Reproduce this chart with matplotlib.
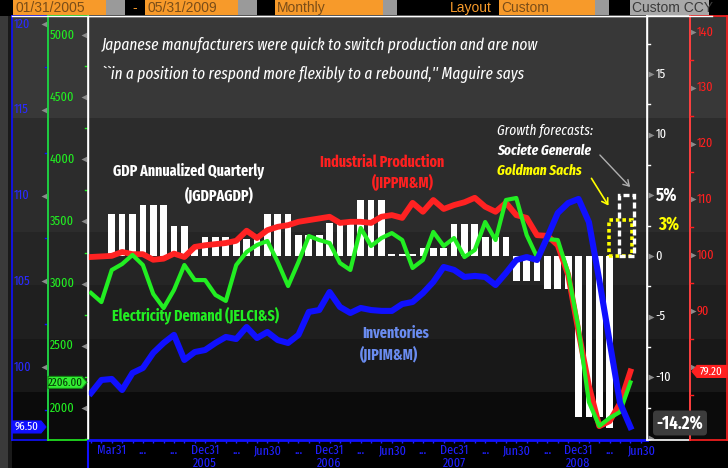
import numpy as np
import matplotlib
matplotlib.use("Agg")
import matplotlib.pyplot as plt
from matplotlib.patches import Rectangle, Polygon, FancyArrowPatch
from matplotlib.transforms import blended_transform_factory as btf

W, H = 728, 468
NARROW = ["Fira Sans Extra Condensed", "Fira Sans Condensed", "Liberation Sans", "DejaVu Sans"]
SANS = ["Liberation Sans", "DejaVu Sans"]

# ---------------- data (monthly, Jan 2005 .. May 2009) ----------------
ip = [99.7, 99.8, 99.9, 100.6, 100.2, 100.2, 99.2, 99.4, 100.3, 99.7,
      101.5, 101.8, 102.0, 102.2, 102.6, 104.4, 103.1, 104.5, 105.1, 105.4,
      106.0, 106.3, 106.6, 106.9, 105.8, 106.0, 106.0, 105.8, 106.9, 107.2,
      106.7, 109.4, 107.8, 109.9, 108.3, 109.0, 109.5, 110.3, 108.7, 107.8,
      109.4, 107.2, 106.7, 103.6, 103.5, 101.8, 96.5, 86.3, 76.6, 69.4,
      70.3, 73.5, 79.2]
elec = [2925, 2852, 3110, 3158, 3231, 3150, 2917, 2804, 2949, 3150,
        3029, 3029, 2909, 2861, 3150, 3255, 3311, 3343, 3174, 2981,
        3174, 3383, 3351, 3327, 3166, 3110, 3448, 3303, 3367, 3407,
        3351, 3126, 3190, 3416, 3303, 3367, 3214, 3271, 3496, 3351,
        3673, 3689, 3391, 3214, 3359, 3351, 3086, 2643, 2048, 1855,
        1920, 1968, 2206]
inv = [98.48, 99.24, 99.30, 98.66, 99.65, 99.94, 100.82, 101.40, 101.87, 100.41,
       100.87, 100.99, 101.40, 101.75, 101.63, 102.33, 101.69, 102.04, 101.57, 101.40,
       101.87, 103.21, 103.32, 104.37, 103.50, 103.15, 103.44, 103.32, 103.27, 103.27,
       103.67, 103.79, 104.31, 104.96, 105.83, 105.66, 105.25, 105.31, 105.25, 104.78,
       105.48, 106.24, 106.41, 106.24, 107.58, 108.98, 109.56, 109.80, 108.45, 105.07,
       101.46, 97.90, 96.50]
nan = np.nan
gdp = [nan, nan, 3.5, 3.5, 3.5, 4.2, 4.2, 4.2, 2.5, 2.5, 0.6,
       1.55, 1.55, 1.55, 1.4, 1.4, 1.4, 3.5, 3.5, 3.5, 1.7, 1.7, 1.7,
       2.7, 2.7, 2.7, 4.6, 4.6, 4.6, 0.2, 0.2, 0.2, 0.64, 0.64, 0.64,
       2.64, 2.64, 2.64, 1.57, 1.57, 1.57, -2.1, -2.1, -2.1, -2.75, -2.75, -2.75,
       -13.3, -13.3, -13.3, -14.2, nan, nan]
fc_socgen = 5.0
fc_goldman = 3.0
last_gdp_label = "-14.2%"

quarter_labels = ["Mar31", "...", "...", "Dec31", "...", "Jun30", "...", "Dec31", "...",
                  "Jun30", "...", "Dec31", "...", "Jun30", "...", "Dec31", "...", "Jun30"]
year_labels = ["2005", "2006", "2007", "2008"]

gdp_ticks = [-15, -10, -5, 0, 5, 10, 15]
gdp_ticklabels = ["", "-10", "-5", "0", "", "10", "15"]
ip_ticks = [80, 90, 100, 110, 120, 130, 140]
ip_ticklabels = ["", "90", "100", "110", "120", "130", "140"]
inv_ticks = [100, 105, 110, 115, 120]
elec_ticks = [2000, 2500, 3000, 3500, 4000, 4500, 5000]

# ---------------- helpers ----------------
def fx(x):
    return x / W

def fy(y):
    return 1 - y / H

fig = plt.figure(figsize=(W / 100, H / 100), dpi=100, facecolor="black")

def frect(x0, y0, x1, y1, color, z=-10, **kw):
    fig.patches.append(Rectangle((fx(x0), fy(y1)), fx(x1) - fx(x0), fy(y0) - fy(y1),
                                 transform=fig.transFigure, facecolor=color,
                                 edgecolor="none", zorder=z, **kw))

def fline(xs, ys, color, lw=1, z=5):
    fig.add_artist(plt.Line2D([fx(v) for v in xs], [fy(v) for v in ys],
                              transform=fig.transFigure, color=color, lw=lw, zorder=z))

def ftext(x, y, s, **kw):
    kw.setdefault("va", "center")
    kw.setdefault("ha", "left")
    return fig.text(fx(x), fy(y), s, **kw)

# background bands
bands = [(16, 118, "#383838"), (118, 232, "#2c2c2c"), (232, 285, "#252525"),
         (285, 339, "#1f1f1f"), (339, 392, "#181818"), (392, 440, "#0b0b0b")]
for y0, y1, c in bands:
    frect(12, y0, 728, y1, c)
frect(0, 16, 8, 468, "#3a3a3a")
frect(8, 16, 12, 468, "#1a1a1a")

# top bar
top_boxes = [(13, 106, "#f79a2a", "01/31/2005", "#7a4d18", "left"),
             (106, 125, "#9a9a9a", "", None, None),
             (125, 145, "#000000", "-", "#f79a2a", "center"),
             (145, 238, "#f79a2a", "05/31/2009", "#7a4d18", "left"),
             (238, 257, "#9a9a9a", "", None, None),
             (257, 275, "#000000", "", None, None),
             (275, 383, "#f79a2a", "Monthly", "#7a4d18", "left"),
             (383, 397, "#9a9a9a", "", None, None),
             (397, 499, "#000000", "Layout", "#f79a2a", "right"),
             (499, 595, "#f79a2a", "Custom", "#7a4d18", "left"),
             (595, 609, "#9a9a9a", "", None, None),
             (609, 630, "#000000", "", None, None),
             (630, 709, "#a8a8a8", "Custom CCY", "#3a3a3a", "left")]
for x0, x1, c, t, tc, al in top_boxes:
    frect(x0, 0, x1, 15, c)
    if t:
        if al == "left":
            ftext(x0 + 2, 8, t, color=tc, fontsize=10, family=SANS, zorder=6)
        elif al == "right":
            ftext(x1 - 7, 8, t, color=tc, fontsize=10, family=SANS, ha="right", zorder=6)
        else:
            ftext((x0 + x1) / 2, 8, t, color=tc, fontsize=10, family=SANS, ha="center", zorder=6)
fline([12, 712], [16, 16], "white", lw=1)

# ---------------- main axes ----------------
rect_main = [fx(88), fy(440), fx(647) - fx(88), fy(16) - fy(440)]
XL = (-0.29, 53.6)
m = np.arange(len(ip))

ax = fig.add_axes(rect_main)
ax.set_facecolor("none")
ax.set_xlim(*XL)
ax.set_ylim(-15.18, 19.8)
ax.bar(m, gdp, width=0.65, color="white", zorder=2)

fc_x = len(ip) - 2
ax.add_patch(Rectangle((fc_x + 0.05 - 1.1, 0), 2.2, fc_goldman, fill=False,
                       edgecolor="#ffff00", lw=2.6, linestyle=(0, (1.0, 0.8)), zorder=6))
ax.add_patch(Rectangle((fc_x + 0.6 - 0.7, 0), 1.4, fc_socgen, fill=False,
                       edgecolor="white", lw=2.4, linestyle=(0, (1.8, 0.9)), zorder=7))

for s in ["left", "right", "top"]:
    ax.spines[s].set_color("white")
    ax.spines[s].set_linewidth(1)
ax.spines["bottom"].set_color("#1010ff")
ax.spines["bottom"].set_linewidth(2)
ax.set_yticks([])
q_pos = np.arange(2, 2 + 3 * len(quarter_labels), 3)
ax.set_xticks(q_pos)
ax.set_xticklabels(quarter_labels)
ax.set_xticks(m, minor=True)
ax.tick_params(axis="x", which="both", colors="#2020ff", length=2, width=1, pad=1,
               labelsize=9.5, direction="out")
for lab in ax.get_xticklabels():
    lab.set_family(NARROW)
year_pos = q_pos[3::4]
for yp, yl in zip(year_pos, year_labels):
    ax.text(yp, fy(463), yl, transform=btf(ax.transData, fig.transFigure),
            color="#2020ff", fontsize=9.5, family=NARROW, ha="center", va="center")

# lines
axr = ax.twinx()
axr.set_ylim(66.92, 142.86)
axr.plot(m, ip, color="#ff2222", lw=4.2, solid_joinstyle="round", zorder=3)
axr.axis("off")

axg = ax.twinx()
axg.set_ylim(1742.6, 5152.8)
axg.plot(m, elec, color="#22ee22", lw=3.0, solid_joinstyle="round", zorder=4)
axg.axis("off")

axb = ax.twinx()
axb.set_ylim(95.74, 120.47)
axb.plot(m, inv, color="#1010ff", lw=4.4, solid_joinstyle="round", zorder=5)
axb.axis("off")

fline([88, 88], [441, 468], "#1010ff", lw=1.5)

# ---------------- side panels ----------------
def panel(x0, x1, ylim, edge, ticks, labels, lab_color, lab_x, tri_x, tri_m, minor_side, edge_color_r=None):
    p = fig.add_axes([fx(x0), fy(440), fx(x1) - fx(x0), fy(16) - fy(440)])
    p.set_facecolor("none")
    p.set_xlim(0, 1)
    p.set_ylim(*ylim)
    p.set_xticks([])
    p.set_yticks([])
    for s in p.spines.values():
        s.set_color(edge)
        s.set_linewidth(1.2)
    if edge_color_r:
        p.spines["right"].set_color(edge_color_r)
    for t, l in zip(ticks, labels):
        p.plot([tri_x], [t], marker=tri_m, color="#8a8a8a", ms=4.5, mec="none")
        if l:
            p.text(lab_x, t, l, color=lab_color, fontsize=9.5, family=NARROW,
                   ha="left", va="center")
    step = ticks[1] - ticks[0]
    mids = np.arange(ticks[0] - step / 2, ylim[1], step)
    for mv in mids:
        if ylim[0] < mv < ylim[1]:
            if minor_side == "right":
                p.plot([0.93, 1.0], [mv, mv], color=edge, lw=1)
            else:
                p.plot([0.0, 0.07], [mv, mv], color=edge, lw=1)
    return p

pb = panel(12, 48, (95.74, 120.47), "#1010ff", inv_ticks, [str(t) for t in inv_ticks],
           "#2a2aff", 0.06, 0.9, "<", "right")
pg = panel(48, 88, (1742.6, 5152.8), "#22ee22", elec_ticks, [str(t) for t in elec_ticks],
           "#22ee22", 0.05, 0.9, "<", "right", edge_color_r="white")
pw = panel(647, 690, (-15.18, 19.8), "white", gdp_ticks, gdp_ticklabels,
           "white", 0.2, 0.09, ">", "left")
pr = panel(690, 727, (66.92, 142.86), "#ff2020", ip_ticks, ip_ticklabels,
           "#ff2020", 0.19, 0.09, ">", "left")

# value tags
def y_px(axis, val):
    disp = axis.transData.transform((0.5, val))[1]
    return H - disp

def tag(x0, x1, yc, fc, text, tc, point="right", ec=None):
    h = 6
    if point == "right":
        pts = [(x0, yc - h), (x1 - 5, yc - h), (x1, yc), (x1 - 5, yc + h), (x0, yc + h)]
    else:
        pts = [(x0, yc), (x0 + 5, yc - h), (x1, yc - h), (x1, yc + h), (x0 + 5, yc + h)]
    fig.patches.append(Polygon([(fx(a), fy(b)) for a, b in pts], closed=True,
                               transform=fig.transFigure, facecolor=fc,
                               edgecolor=ec or fc, lw=0.8, zorder=8))
    cx = (x0 + x1) / 2 + (-2 if point == "right" else 2)
    ftext(cx, yc, text, color=tc, fontsize=8.5, family=NARROW, ha="center", zorder=9)

tag(12, 46, y_px(pb, inv[-1]), "#1010ff", f"{inv[-1]:.2f}", "white", "right")
tag(48, 87, y_px(pg, elec[-1]), "#33ee33", f"{elec[-1]:.2f}", "#063806", "right", ec="#118811")
tag(692, 727, y_px(pr, ip[-1]), "#ff2020", f"{ip[-1]:.2f}", "white", "left")

# ---------------- annotations ----------------
ftext(102, 45, "Japanese manufacturers were quick to switch production and are now",
      color="white", fontsize=12, style="italic", family=NARROW)
ftext(102, 74, "``in a position to respond more flexibly to a rebound,'' Maguire says",
      color="white", fontsize=12, style="italic", family=NARROW)

ftext(113, 171, "GDP Annualized Quarterly", color="white", fontsize=11,
      weight="bold", family=NARROW, zorder=9)
ftext(185, 196, "(JGDPAGDP)", color="white", fontsize=11, weight="bold", family=NARROW, zorder=9)
ftext(320, 162, "Industrial Production", color="#ff2020", fontsize=11,
      weight="bold", family=NARROW, zorder=9)
ftext(372, 183, "(JIPPM&M)", color="#ff2020", fontsize=11, weight="bold", family=NARROW, zorder=9)
ftext(112, 315, "Electricity Demand (JELCI&S)", color="#22ee22", fontsize=11,
      weight="bold", family=NARROW, zorder=9)
ftext(362, 333, "Inventories", color="#6a8cf0", fontsize=11, weight="bold", family=NARROW, zorder=9)
ftext(360, 355, "(JIPIM&M)", color="#6a8cf0", fontsize=11, weight="bold", family=NARROW, zorder=9)

ftext(497, 131, "Growth forecasts:", color="white", fontsize=10.5, style="italic",
      family=NARROW, zorder=9)
ftext(497, 151, "Societe Generale", color="white", fontsize=10.5, style="italic",
      weight="bold", family=NARROW, zorder=9)
ftext(497, 171, "Goldman Sachs", color="#ffff00", fontsize=10.5, style="italic",
      weight="bold", family=NARROW, zorder=9)

fig.add_artist(FancyArrowPatch(
    (fx(598), fy(153)), (fx(632), fy(189)), transform=fig.transFigure,
    arrowstyle="->,head_length=4,head_width=2.5", color="#b0b0b0", lw=1, zorder=9))
fig.add_artist(FancyArrowPatch(
    (fx(590), fy(176)), (fx(610), fy(208)), transform=fig.transFigure,
    arrowstyle="->,head_length=4,head_width=2.5", color="#ffff00", lw=1.2, zorder=9))

ftext(656, y_px(pw, fc_socgen), f"{fc_socgen:.0f}%", color="white", fontsize=13,
      weight="bold", family=NARROW, zorder=9)
ftext(658, y_px(pw, fc_goldman) + 5, f"{fc_goldman:.0f}%", color="#ffff00", fontsize=13,
      weight="bold", family=NARROW, zorder=9)
ftext(680, 423, last_gdp_label, color="white", fontsize=13, weight="bold",
      family=NARROW, ha="center", zorder=9,
      bbox=dict(boxstyle="round,pad=0.2", fc="#3c3c3c", ec="none"))

fig.savefig("out.png", dpi=100, facecolor="black")
